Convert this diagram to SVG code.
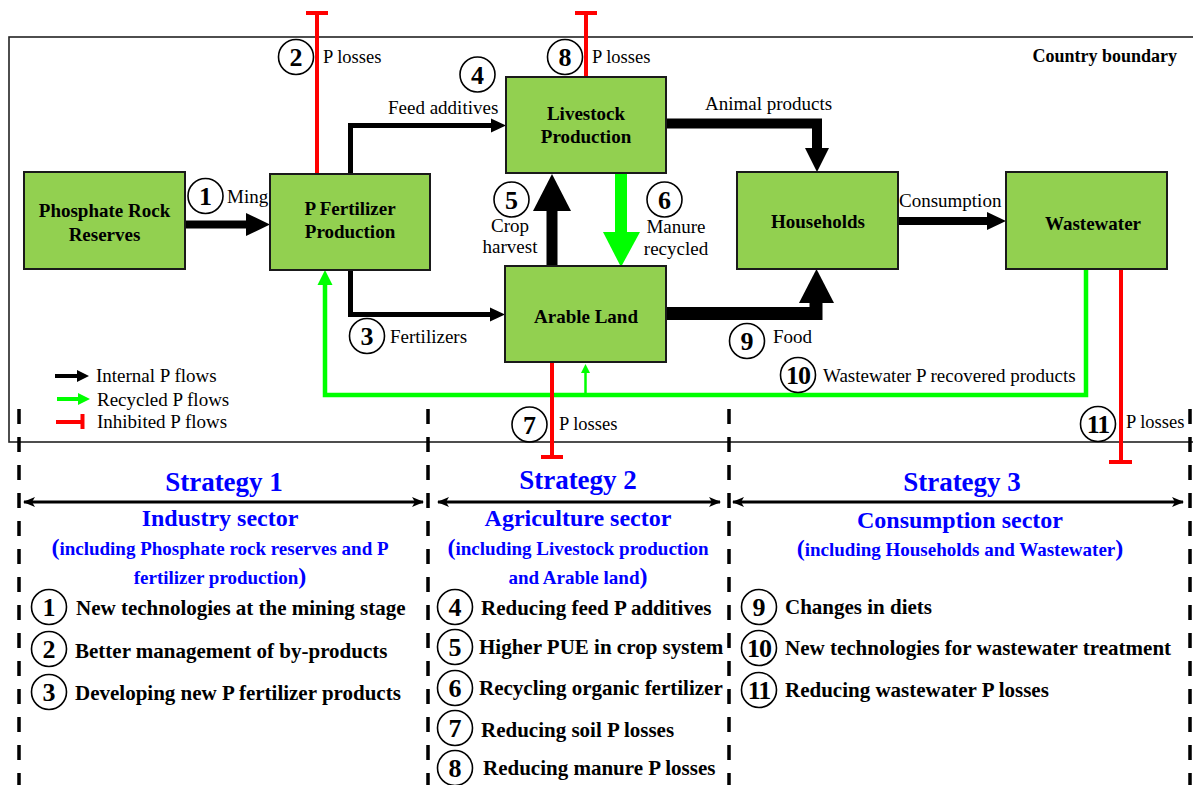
<svg xmlns="http://www.w3.org/2000/svg" width="1193" height="785" viewBox="0 0 1193 785">
<style>
.node{fill:#92D050;stroke:#1a1a1a;stroke-width:2}
.nl{font-family:"Liberation Serif","Times New Roman",serif;font-weight:bold;font-size:19px;text-anchor:middle;fill:#000}
.lbl{font-family:"Liberation Serif","Times New Roman",serif;font-size:19px;fill:#000}
.pl{font-family:"Liberation Serif","Times New Roman",serif;font-size:18.5px;fill:#000}
.cc{fill:none;stroke:#000;stroke-width:1.6}
.num{font-family:"Liberation Serif","Times New Roman",serif;font-weight:bold;font-size:26px;text-anchor:middle;fill:#000}
.blk{stroke:#000;fill:none}
.grn{stroke:#00ff00;fill:none}
.red{stroke:#ff0000;stroke-width:4;fill:none}
.dash{stroke:#000;stroke-width:3.5;stroke-dasharray:15 13}
.st{font-family:"Liberation Serif","Times New Roman",serif;font-weight:bold;fill:#0000ff;text-anchor:middle}
.par{font-size:24px}
.item{font-family:"Liberation Serif","Times New Roman",serif;font-weight:bold;font-size:21px;fill:#000}
</style>
<defs>
<marker id="dh" viewBox="0 0 12 10" refX="11" refY="5" markerWidth="12" markerHeight="10" markerUnits="userSpaceOnUse" orient="auto-start-reverse">
<path d="M0,0 L12,5 L0,10 L3,5 z" fill="#000"/>
</marker>
</defs>
<rect width="1193" height="785" fill="#fff"/>

<g id="boundary">
<rect x="9" y="37" width="1200" height="405" fill="none" stroke="#222" stroke-width="1.6"/>
<text x="1177" y="62" font-family="Liberation Serif,Times New Roman,serif" font-weight="bold" font-size="18" text-anchor="end">Country boundary</text>
</g>

<g id="connectors">
<line class="blk" x1="185" y1="224.5" x2="248" y2="224.5" stroke-width="8"/>
<polygon points="246,213 270,224.5 246,236" fill="#000"/>
<line class="blk" x1="898" y1="221" x2="988" y2="221" stroke-width="8"/>
<polygon points="987,212 1006,221 987,230" fill="#000"/>
<path class="blk" d="M350.5,174 V125.5 H492" stroke-width="5"/>
<polygon points="491,118.5 506,125.5 491,132.5" fill="#000"/>
<path class="blk" d="M350.5,270 V314.5 H491" stroke-width="5"/>
<polygon points="490,307.5 505,314.5 490,321.5" fill="#000"/>
<path class="blk" d="M666,123.5 H817 V150" stroke-width="10"/>
<polygon points="805,148 829,148 817,172" fill="#000"/>
<path class="blk" d="M666,313.5 H816 V300" stroke-width="13"/>
<polygon points="799,303 834,303 816.5,269" fill="#000"/>
<rect x="546.5" y="209" width="11" height="57" fill="#000"/>
<polygon points="533,211 571,211 552,174" fill="#000"/>
<rect x="615" y="173" width="12" height="61" fill="#00ff00"/>
<polygon points="603,232 640,232 621,267" fill="#00ff00"/>
<path class="grn" d="M1086,269 V395 H325 V283" stroke-width="4.5"/>
<polygon points="317.5,285 332.5,285 325,270" fill="#00ff00"/>
<line class="grn" x1="585.5" y1="395" x2="585.5" y2="371" stroke-width="2.5"/>
<polygon points="581,373 590,373 585.5,364" fill="#00ff00"/>
<path class="red" d="M317,174 V13 M306,13 H328"/>
<path class="red" d="M586,77 V13 M575,13 H597"/>
<path class="red" d="M552,362 V457 M541,457 H563"/>
<path class="red" d="M1121,270 V462 M1109,462 H1132"/>
</g>

<g id="labels">
<circle class="cc" cx="205.5" cy="196" r="17.5"/><text class="num" x="205.5" y="205">1</text>
<text class="lbl" x="227" y="203">Ming</text>
<circle class="cc" cx="296" cy="57" r="17.5"/><text class="num" x="296" y="66">2</text>
<text class="pl" x="323" y="63">P losses</text>
<circle class="cc" cx="367" cy="336" r="17.5"/><text class="num" x="367" y="345">3</text>
<text class="lbl" x="390" y="343">Fertilizers</text>
<circle class="cc" cx="477.5" cy="74.5" r="17.5"/><text class="num" x="477.5" y="83.5">4</text>
<text class="lbl" x="388" y="114">Feed additives</text>
<circle class="cc" cx="511.5" cy="199.5" r="17.5"/><text class="num" x="511.5" y="208.5">5</text>
<text class="lbl" x="510" y="232" text-anchor="middle">Crop</text>
<text class="lbl" x="510" y="253" text-anchor="middle">harvest</text>
<circle class="cc" cx="664.5" cy="199.5" r="17.5"/><text class="num" x="664.5" y="208.5">6</text>
<text class="lbl" x="676" y="233" text-anchor="middle">Manure</text>
<text class="lbl" x="676" y="255" text-anchor="middle">recycled</text>
<circle class="cc" cx="529.5" cy="424.5" r="17.5"/><text class="num" x="529.5" y="433.5">7</text>
<text class="pl" x="559" y="430">P losses</text>
<circle class="cc" cx="565" cy="57" r="17.5"/><text class="num" x="565" y="66">8</text>
<text class="pl" x="592" y="63">P losses</text>
<text class="lbl" x="705" y="110">Animal products</text>
<text class="lbl" x="899" y="207">Consumption</text>
<circle class="cc" cx="747" cy="341" r="17.5"/><text class="num" x="747" y="350">9</text>
<text class="lbl" x="773" y="343">Food</text>
<circle class="cc" cx="798" cy="375" r="17.5"/><text class="num" x="798" y="384" letter-spacing="-1">10</text>
<text class="lbl" x="823" y="382">Wastewater P recovered products</text>
<circle class="cc" cx="1098" cy="424" r="17.5"/><text class="num" x="1098" y="433" letter-spacing="-1">11</text>
<text class="pl" x="1126" y="428">P losses</text>
</g>

<g id="n-phosphate"><rect class="node" x="24" y="172" width="161" height="97"/><text class="nl" x="104.5" y="217">Phosphate Rock</text><text class="nl" x="104.5" y="241">Reserves</text></g>
<g id="n-pfert"><rect class="node" x="270" y="174" width="160" height="96"/><text class="nl" x="350" y="215">P Fertilizer</text><text class="nl" x="350" y="238">Production</text></g>
<g id="n-livestock"><rect class="node" x="506" y="77" width="160" height="96"/><text class="nl" x="586" y="120">Livestock</text><text class="nl" x="586" y="143">Production</text></g>
<g id="n-households"><rect class="node" x="737" y="172" width="161" height="97"/><text class="nl" x="818" y="228">Households</text></g>
<g id="n-wastewater"><rect class="node" x="1006" y="172" width="161" height="97"/><text class="nl" x="1093" y="230">Wastewater</text></g>
<g id="n-arable"><rect class="node" x="505" y="266" width="161" height="96"/><text class="nl" x="586" y="323">Arable Land</text></g>

<g id="legend">
<line x1="55" y1="376" x2="80" y2="376" stroke="#000" stroke-width="4"/>
<polygon points="77,370 89,376 77,382" fill="#000"/>
<text class="lbl" x="96" y="382">Internal P flows</text>
<line x1="57" y1="399" x2="81" y2="399" stroke="#00ff00" stroke-width="4"/>
<polygon points="78,393 90,399 78,405" fill="#00ff00"/>
<text class="lbl" x="97" y="406">Recycled P flows</text>
<line x1="56" y1="422" x2="82" y2="422" stroke="#ff0000" stroke-width="4"/>
<line x1="82.5" y1="414" x2="82.5" y2="429" stroke="#ff0000" stroke-width="4"/>
<text class="lbl" x="97" y="428">Inhibited P flows</text>
</g>

<g id="dividers">
<line class="dash" x1="19" y1="409" x2="19" y2="785"/>
<line class="dash" x1="428" y1="409" x2="428" y2="785"/>
<line class="dash" x1="729" y1="409" x2="729" y2="785"/>
<line class="dash" x1="1190" y1="409" x2="1190" y2="785"/>
<line x1="24" y1="502" x2="423" y2="502" stroke="#000" stroke-width="3" marker-start="url(#dh)" marker-end="url(#dh)"/>
<line x1="438" y1="502" x2="720" y2="502" stroke="#000" stroke-width="3" marker-start="url(#dh)" marker-end="url(#dh)"/>
<line x1="733" y1="502" x2="1183" y2="502" stroke="#000" stroke-width="3" marker-start="url(#dh)" marker-end="url(#dh)"/>
</g>

<g id="strategy1">
<text class="st" x="224" y="491" font-size="27">Strategy 1</text>
<text class="st" x="220" y="526" font-size="24">Industry sector</text>
<text class="st" x="220" y="555" font-size="19"><tspan class="par">(</tspan>including Phosphate rock reserves and P</text>
<text class="st" x="220" y="584" font-size="19">fertilizer production<tspan class="par">)</tspan></text>
<circle class="cc" cx="49" cy="607" r="17.5"/><text class="num" x="49" y="616">1</text>
<text class="item" x="76" y="615">New technologies at the mining stage</text>
<circle class="cc" cx="49" cy="649" r="17.5"/><text class="num" x="49" y="658">2</text>
<text class="item" x="75" y="658">Better management of by-products</text>
<circle class="cc" cx="49" cy="692" r="17.5"/><text class="num" x="49" y="701">3</text>
<text class="item" x="75" y="700">Developing new P fertilizer products</text>
</g>

<g id="strategy2">
<text class="st" x="578" y="489" font-size="27">Strategy 2</text>
<text class="st" x="578" y="526" font-size="24">Agriculture sector</text>
<text class="st" x="578" y="555" font-size="19"><tspan class="par">(</tspan>including Livestock production</text>
<text class="st" x="578" y="584" font-size="19">and Arable land<tspan class="par">)</tspan></text>
<circle class="cc" cx="455" cy="607" r="17.5"/><text class="num" x="455" y="616">4</text>
<text class="item" x="481" y="615">Reducing feed P additives</text>
<circle class="cc" cx="455" cy="647" r="17.5"/><text class="num" x="455" y="656">5</text>
<text class="item" x="479" y="654">Higher PUE in crop system</text>
<circle class="cc" cx="455" cy="688" r="17.5"/><text class="num" x="455" y="697">6</text>
<text class="item" x="479" y="695">Recycling organic fertilizer</text>
<circle class="cc" cx="455" cy="728" r="17.5"/><text class="num" x="455" y="737">7</text>
<text class="item" x="481" y="737">Reducing soil P losses</text>
<circle class="cc" cx="455" cy="768" r="17.5"/><text class="num" x="455" y="777">8</text>
<text class="item" x="483" y="775">Reducing manure P losses</text>
</g>

<g id="strategy3">
<text class="st" x="962" y="491" font-size="27">Strategy 3</text>
<text class="st" x="960" y="528" font-size="24">Consumption sector</text>
<text class="st" x="960" y="556" font-size="19"><tspan class="par">(</tspan>including Households and Wastewater<tspan class="par">)</tspan></text>
<circle class="cc" cx="759" cy="607" r="17.5"/><text class="num" x="759" y="616">9</text>
<text class="item" x="785" y="614">Changes in diets</text>
<circle class="cc" cx="759" cy="648" r="17.5"/><text class="num" x="759" y="657" letter-spacing="-1">10</text>
<text class="item" x="785" y="655">New technologies for wastewater treatment</text>
<circle class="cc" cx="759" cy="690" r="17.5"/><text class="num" x="759" y="699" letter-spacing="-1">11</text>
<text class="item" x="785" y="697">Reducing wastewater P losses</text>
</g>
</svg>
